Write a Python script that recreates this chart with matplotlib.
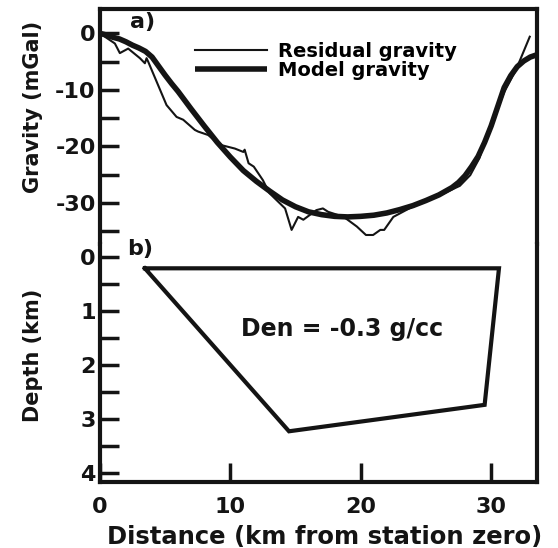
import numpy as np
import matplotlib.pyplot as plt

plt.rcParams['font.family'] = 'DejaVu Sans'
plt.rcParams['font.weight'] = 'bold'
plt.rcParams['axes.unicode_minus'] = False

INK = '#141414'

# a) residual gravity profile (km, mGal)
res_x = [0.0, 1.15, 1.53, 2.17, 3.07, 3.45, 3.58, 3.70, 5.11, 5.88, 6.39, 7.28, 7.54,
         8.30, 8.95, 9.33, 10.35, 11.0, 11.1, 11.4, 11.8, 12.5, 13.0, 14.2, 14.7, 15.2,
         15.6, 16.6, 17.1, 17.5, 18.7, 19.7, 20.4, 20.95, 21.5, 21.8, 22.5, 23.8, 24.8,
         25.5, 26.4, 27.6, 28.4, 29.1, 29.7, 30.3, 31.0, 31.9, 32.96]
res_g = [0.0, -1.8, -3.5, -2.7, -4.4, -5.3, -4.4, -5.0, -12.7, -14.8, -15.3, -17.1, -17.4,
         -18.0, -19.2, -19.8, -20.4, -21.0, -20.6, -23.0, -23.6, -26.0, -28.3, -31.0, -34.8, -32.5,
         -33.0, -31.3, -31.0, -31.6, -32.5, -34.2, -35.7, -35.7, -34.8, -34.8, -32.5, -30.9, -29.9,
         -29.0, -28.3, -27.0, -25.1, -22.1, -17.7, -14.5, -10.4, -6.5, -0.6]

# a) model gravity profile
mod_x = [0.0, 0.5, 1.0, 1.5, 2.0, 2.5, 3.0, 3.5, 4.0, 4.5, 5.0, 5.5, 6.0, 7.0, 8.0, 9.0,
         10.0, 11.0, 12.0, 13.0, 14.0, 15.0, 16.0, 17.0, 18.0, 19.0, 20.0, 21.0, 22.0,
         23.0, 24.0, 25.0, 26.0, 27.0, 27.5, 28.0, 28.5, 29.0, 29.5, 30.0, 30.5, 31.0,
         31.5, 32.0, 32.5, 33.0, 33.5]
mod_g = [0.0, -0.3, -0.7, -1.0, -1.5, -2.1, -2.6, -3.2, -4.2, -5.8, -7.4, -8.9, -10.3,
         -13.4, -16.4, -19.3, -21.9, -24.3, -26.2, -27.9, -29.5, -30.7, -31.6, -32.1,
         -32.4, -32.5, -32.4, -32.2, -31.8, -31.2, -30.5, -29.6, -28.6, -27.3, -26.4,
         -25.2, -23.6, -21.8, -19.3, -16.4, -13.0, -9.6, -7.5, -5.9, -4.9, -4.2, -3.8]

# b) model body outline (km distance, km depth)
body_x = [3.45, 30.6, 29.5, 14.5, 3.45]
body_z = [0.21, 0.21, 2.74, 3.23, 0.21]

grav_ticks = [0, -10, -20, -30]
depth_ticks = [0, 1, 2, 3, 4]
dist_ticks = [0, 10, 20, 30]

fig = plt.figure(figsize=(5.58, 5.48), dpi=100)
ax1 = fig.add_axes([0.179, 0.5547, 0.783, 0.4283])
ax2 = fig.add_axes([0.179, 0.1204, 0.783, 0.4343])

ax1.plot(res_x, res_g, color=INK, lw=1.5, label='Residual gravity')
ax1.plot(mod_x, mod_g, color=INK, lw=4.0, label='Model gravity', solid_capstyle='butt')
ax1.set_xlim(0, 33.5)
ax1.set_ylim(-37.3, 4.25)
ax1.set_yticks(grav_ticks)
ax1.set_yticks(np.arange(-35, 1, 5), minor=True)
ax1.set_xticks([])
ax1.spines['bottom'].set_visible(False)
ax1.text(3.3, 2.0, 'a)', fontsize=16, fontweight='bold', ha='center', va='center', color=INK)
ax1.legend(loc='upper left', bbox_to_anchor=(0.217, 0.861), frameon=False, fontsize=14,
           handlelength=3.7, handletextpad=0.56, labelspacing=0.0, borderpad=0,
           borderaxespad=0)
ax1.set_ylabel('Gravity (mGal)', fontsize=15, fontweight='bold', color=INK)
ax1.yaxis.set_label_coords(-0.13, 0.584)

ax2.plot(body_x, body_z, color=INK, lw=3.0, solid_joinstyle='miter')
ax2.set_xlim(0, 33.5)
ax2.set_ylim(4.17, -0.24)
ax2.set_yticks(depth_ticks)
ax2.set_yticks(np.arange(0.5, 4, 1.0), minor=True)
ax2.set_xticks(dist_ticks)
ax2.spines['top'].set_visible(False)
ax2.text(3.07, -0.15, 'b)', fontsize=16, fontweight='bold', ha='center', va='center',
         color=INK, clip_on=False)
ax2.text(18.6, 1.33, 'Den = -0.3 g/cc', fontsize=17, fontweight='bold', ha='center',
         va='center', color=INK)
ax2.set_ylabel('Depth (km)', fontsize=15, fontweight='bold', color=INK)
ax2.yaxis.set_label_coords(-0.13, 0.534)
ax2.set_xlabel('Distance (km from station zero)', fontsize=17.5, fontweight='bold',
               color=INK)
ax2.xaxis.set_label_coords(0.515, -0.18)

for ax in (ax1, ax2):
    for s in ax.spines.values():
        s.set_linewidth(3.0)
        s.set_color(INK)
    ax.tick_params(which='both', direction='in', length=14, width=2.5, color=INK,
                   labelsize=16, labelcolor=INK, pad=3)
    ax.tick_params(axis='x', pad=10.5)
    for lab in ax.get_xticklabels() + ax.get_yticklabels():
        lab.set_fontweight('bold')

fig.savefig('out.png', dpi=100)
